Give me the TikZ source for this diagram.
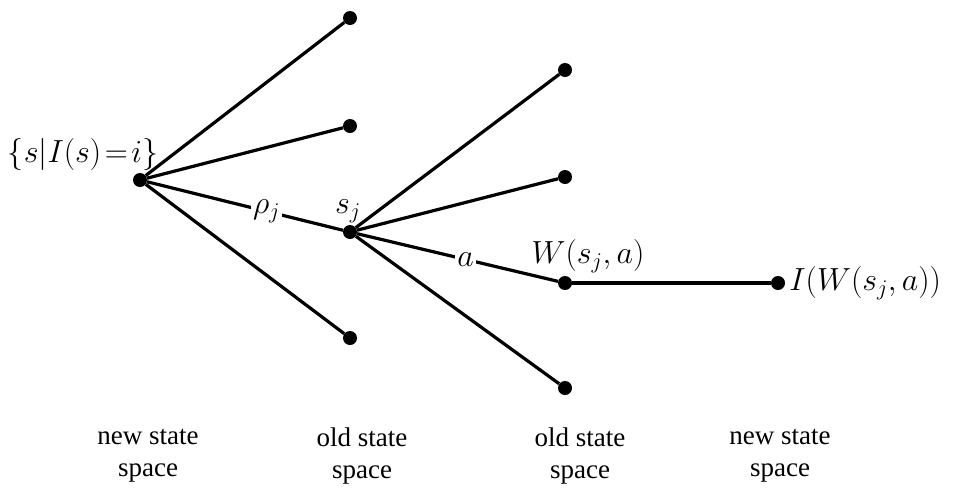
\RequirePackage{fix-cm}
\documentclass[tikz,border=0pt]{standalone}
\usepackage{fontspec}
\setmainfont{Liberation Serif}
\usetikzlibrary{positioning}
\tikzset{
  state/.style={circle,fill,inner sep=0pt,minimum size=14pt},
  branch/.style={line width=3.2pt},
  lbl/.style={font=\fontsize{32}{36}\selectfont,inner sep=1pt},
  cut/.style={lbl,fill=white,inner sep=2pt},
  space/.style={align=center,font=\fontsize{27}{32}\selectfont}
}

\begin{document}
\begin{tikzpicture}[x=1pt,y=-1pt]
\useasboundingbox (0,0) rectangle (954,496);
% states
\node[state] (root) at (140,180) {};
\node[state] (ua) at (350,18) {};
\node[state] (ub) at (350,126) {};
\node[state] (sj) at (350,232) {};
\node[state] (ud) at (350,338) {};
\node[state] (va) at (565,70) {};
\node[state] (vb) at (565,177) {};
\node[state] (w) at (565,283) {};
\node[state] (vd) at (565,388) {};
\node[state] (iw) at (778,283) {};
% branches
\draw[branch] (root) -- (ua);
\draw[branch] (root) -- (ub);
\draw[branch] (root) -- (ud);
\draw[branch] (root) -- node[cut,pos=0.61] (rho) {$\rho_j$} (sj);
\draw[branch] (sj) -- (va);
\draw[branch] (sj) -- (vb);
\draw[branch] (sj) -- (vd);
\draw[branch] (sj) -- node[cut,pos=0.54] (act) {$a$} (w);
\draw[branch] (w) -- (iw);
% labels
\node[lbl] (set) at (83,154) {$\bigl\{s\big|I(s)\!=\!i\bigr\}$};
\node[lbl,above=1pt of sj,xshift=-2pt] (sjl) {$s_j$};
\node[lbl,above=2pt of w,xshift=23pt] (wl) {$W(s_j,a)$};
\node[lbl,right=3pt of iw] (iwl) {$I(W(s_j,a))$};
\node[space] (na) at (148,456) {new state\\space};
\node[space] (oa) at (362,456) {old state\\space};
\node[space] (ob) at (580,456) {old state\\space};
\node[space] (nb) at (780,456) {new state\\space};
\end{tikzpicture}
\end{document}
